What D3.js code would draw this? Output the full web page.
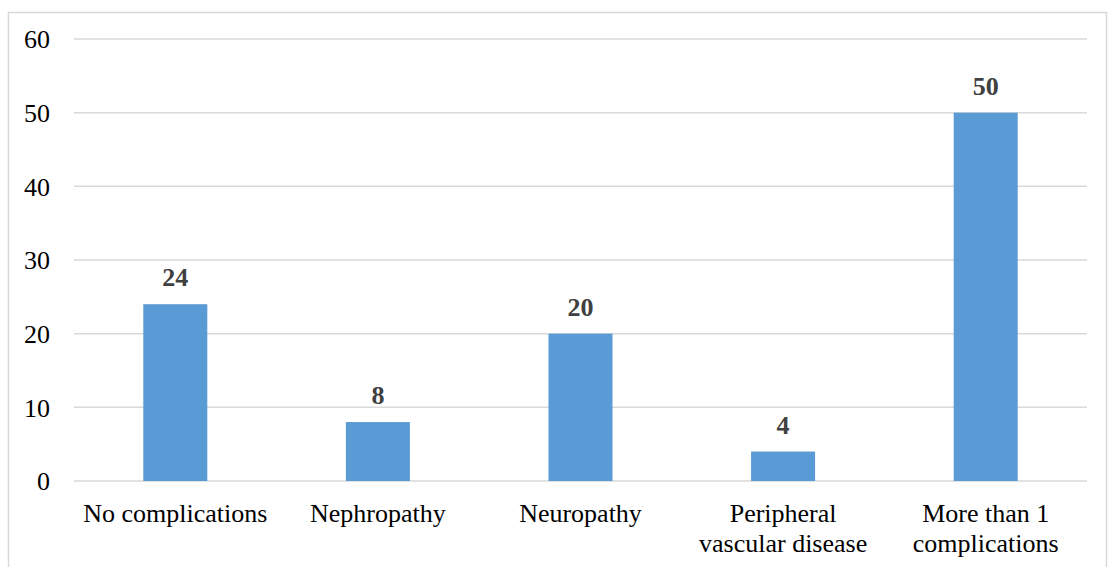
<!DOCTYPE html>
<html>
<head>
<meta charset="utf-8">
<script src="https://cdn.jsdelivr.net/npm/d3@7"></script>
<style>
  html, body { margin: 0; padding: 0; background: #fff; }
  svg { display: block; }
  svg text { font-family: "Times New Roman", "Liberation Serif", Times, "DejaVu Serif", serif !important; }
</style>
</head>
<body>
<div id="chart"></div>
<script>
// Data
const categories = [
  ["No complications"],
  ["Nephropathy"],
  ["Neuropathy"],
  ["Peripheral", "vascular disease"],
  ["More than 1", "complications"]
];
const values = [24, 8, 20, 4, 50];
const yTicks = [0, 10, 20, 30, 40, 50, 60];

const W = 1114, H = 567;
const plot = { left: 74, right: 1087, top: 39, bottom: 481 };

const svg = d3.select("#chart").append("svg")
  .attr("width", W)
  .attr("height", H);

// outer chart frame (bottom edge runs off the picture)
svg.append("rect")
  .attr("x", 8.5).attr("y", 12.5)
  .attr("width", 1098).attr("height", 580)
  .attr("fill", "none")
  .attr("stroke", "#d9d9d9")
  .attr("stroke-width", 1.5);

const x = d3.scaleBand()
  .domain(d3.range(categories.length))
  .range([plot.left, plot.right])
  .paddingInner(0.684)
  .paddingOuter(0.342);

const y = d3.scaleLinear()
  .domain([0, 60])
  .range([plot.bottom, plot.top]);

// gridlines
svg.append("g")
  .selectAll("line")
  .data(yTicks)
  .join("line")
  .attr("x1", plot.left).attr("x2", plot.right)
  .attr("y1", d => y(d)).attr("y2", d => y(d))
  .attr("stroke", "#d9d9d9")
  .attr("stroke-width", 1.5);

// y axis labels
const yAxis = d3.axisLeft(y).tickValues(yTicks).tickSize(0).tickPadding(0);
svg.append("g")
  .attr("transform", "translate(50,0)")
  .call(yAxis)
  .call(g => g.select(".domain").remove())
  .call(g => g.selectAll("text")
    .attr("font-size", 26)
    .attr("fill", "#000")
    .attr("dy", "0.34em"));

// bars
svg.append("g")
  .selectAll("rect")
  .data(values)
  .join("rect")
  .attr("x", (d, i) => x(i))
  .attr("y", d => y(d))
  .attr("width", x.bandwidth())
  .attr("height", d => y(0) - y(d))
  .attr("fill", "#5b9bd5");

// value labels
svg.append("g")
  .selectAll("text")
  .data(values)
  .join("text")
  .attr("x", (d, i) => x(i) + x.bandwidth() / 2)
  .attr("y", d => y(d) - 18)
  .attr("text-anchor", "middle")
  .attr("font-size", 26)
  .attr("font-weight", "bold")
  .attr("fill", "#404040")
  .text(d => d);

// category labels
const xAxis = d3.axisBottom(x).tickSize(0).tickFormat("");
const xg = svg.append("g")
  .attr("transform", `translate(0,${plot.bottom})`)
  .call(xAxis)
  .call(g => g.select(".domain").remove());

xg.selectAll(".tick")
  .append("text")
  .attr("text-anchor", "middle")
  .attr("font-size", 26)
  .attr("fill", "#000")
  .selectAll("tspan")
  .data(i => categories[i])
  .join("tspan")
  .attr("x", 0)
  .attr("y", (d, j) => 41 + j * 30)
  .text(d => d);
</script>
</body>
</html>
